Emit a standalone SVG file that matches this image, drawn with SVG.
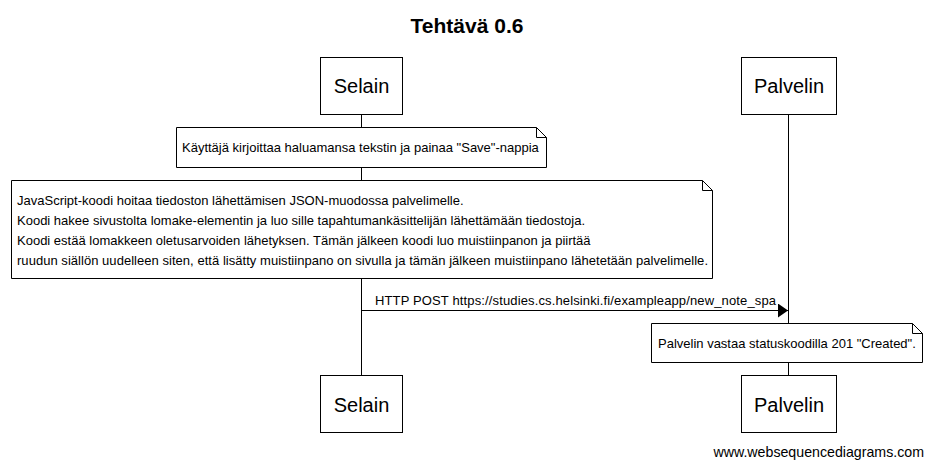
<svg xmlns="http://www.w3.org/2000/svg" width="933" height="466" viewBox="0 0 933 466">
<style>
text{font-family:"Liberation Sans",Arial,sans-serif;fill:#000}
.box{fill:#fff;stroke:#000;stroke-width:1}
.life{stroke:#000;stroke-width:1}
.note{fill:#fff;stroke:#000;stroke-width:1}
.fold{fill:none;stroke:#000;stroke-width:1}
.pl{font-size:20px;text-anchor:middle}
.nt{font-size:13px}
</style>
<defs>
<marker id="ah" markerWidth="10" markerHeight="14" refX="10" refY="7" orient="auto" markerUnits="userSpaceOnUse">
<path d="M0,0 L10,7 L0,14 Z" fill="#000"/>
</marker>
</defs>
<rect width="933" height="466" fill="#fff"/>
<text x="467" y="33" font-size="21" font-weight="bold" text-anchor="middle">Tehtävä 0.6</text>
<g id="lifelines">
<line class="life" x1="361.5" y1="114" x2="361.5" y2="375"/>
<line class="life" x1="788.5" y1="114" x2="788.5" y2="375"/>
</g>
<g id="selain-top"><rect class="box" x="320.5" y="57.5" width="82" height="57"/><text class="pl" x="361.5" y="93">Selain</text></g>
<g id="palvelin-top"><rect class="box" x="741.5" y="57.5" width="95" height="57"/><text class="pl" x="789" y="93">Palvelin</text></g>
<g id="selain-bottom"><rect class="box" x="320.5" y="375.5" width="82" height="57"/><text class="pl" x="361.5" y="412">Selain</text></g>
<g id="palvelin-bottom"><rect class="box" x="741.5" y="375.5" width="95" height="57"/><text class="pl" x="789" y="412">Palvelin</text></g>
<g id="note1">
<path class="note" d="M176.5,127.5 H536.5 L546.5,137.5 V167.5 H176.5 Z"/>
<path class="fold" d="M536.5,127.5 V137.5 H546.5"/>
<text class="nt" x="182" y="152">Käyttäjä kirjoittaa haluamansa tekstin ja painaa "Save"-nappia</text>
</g>
<g id="note2">
<path class="note" d="M11.5,180.5 H702.5 L712.5,190.5 V278.5 H11.5 Z"/>
<path class="fold" d="M702.5,180.5 V190.5 H712.5"/>
<text class="nt" x="17" y="205">JavaScript-koodi hoitaa tiedoston lähettämisen JSON-muodossa palvelimelle.</text>
<text class="nt" x="17" y="225">Koodi hakee sivustolta lomake-elementin ja luo sille tapahtumankäsittelijän lähettämään tiedostoja.</text>
<text class="nt" x="17" y="245">Koodi estää lomakkeen oletusarvoiden lähetyksen. Tämän jälkeen koodi luo muistiinpanon ja piirtää</text>
<text class="nt" x="17" y="265" textLength="691" lengthAdjust="spacing">ruudun siällön uudelleen siten, että lisätty muistiinpano on sivulla ja tämän jälkeen muistiinpano lähetetään palvelimelle.</text>
</g>
<g id="connectors">
<line x1="361.5" y1="310.5" x2="788" y2="310.5" stroke="#000" stroke-width="1" marker-end="url(#ah)"/>
<text class="nt" x="375" y="305" textLength="401" lengthAdjust="spacing">HTTP POST https://studies.cs.helsinki.fi/exampleapp/new_note_spa</text>
</g>
<g id="note3">
<path class="note" d="M651.5,323.5 H912.5 L922.5,333.5 V362.5 H651.5 Z"/>
<path class="fold" d="M912.5,323.5 V333.5 H922.5"/>
<text class="nt" x="658" y="348">Palvelin vastaa statuskoodilla 201 "Created".</text>
</g>
<text x="924" y="457" font-size="14.2" text-anchor="end">www.websequencediagrams.com</text>
</svg>
